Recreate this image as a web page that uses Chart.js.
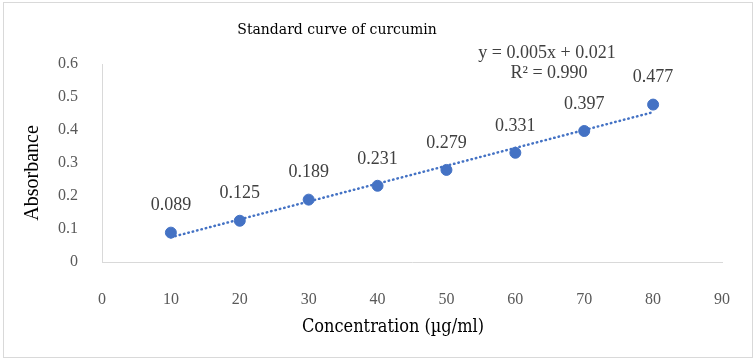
<!DOCTYPE html>
<html>
<head>
<meta charset="utf-8">
<script src="https://cdn.jsdelivr.net/npm/chart.js@4"></script>
<style>
  html, body { margin: 0; padding: 0; background: #fff; }
  #wrap { width: 756px; height: 362px; }
</style>
</head>
<body>
<div id="wrap"><canvas id="curveChart" width="756" height="362"></canvas></div>
<script>
// concentrations (µg/ml) and measured absorbance
const concentrations = [10, 20, 30, 40, 50, 60, 70, 80];
const absorbance = [0.089, 0.125, 0.189, 0.231, 0.279, 0.331, 0.397, 0.477];

// linear trendline ends
const trendX = [10, 80];
const trendY = [0.075, 0.454];

const chartTitle = "Standard curve of curcumin";
const equationLines = ["y = 0.005x + 0.021", "R\u00b2 = 0.990"];
const xTitle = "Concentration (\u00b5g/ml)";
const yTitle = "Absorbance";

const blue = "#4472C4";
const serif = "Liberation Serif, Times New Roman, Times, serif";

// labels, titles and frame drawn on top of the chart
const extrasPlugin = {
    id: "extras",
    afterDraw(chart) {
        const ctx = chart.ctx;
        ctx.save();

        // outer frame
        ctx.strokeStyle = "#d9d9d9";
        ctx.lineWidth = 1;
        ctx.strokeRect(3.5, 2.5, 749, 355);

        // value labels above each point
        const meta = chart.getDatasetMeta(0);
        ctx.font = "18px " + serif;
        ctx.fillStyle = "#404040";
        ctx.textAlign = "center";
        ctx.textBaseline = "middle";
        meta.data.forEach((pt, i) => {
            ctx.fillText(absorbance[i].toFixed(3), pt.x, pt.y - 27);
        });

        // trendline equation
        ctx.fillText(equationLines[0], 547, 53);
        ctx.fillText(equationLines[1], 549, 73);

        // chart title
        ctx.fillStyle = "#000";
        ctx.font = "14px DejaVu Serif";
        ctx.fillText(chartTitle, 337, 30);

        // axis titles
        ctx.font = "18px DejaVu Serif Condensed, DejaVu Serif";
        ctx.fillText(xTitle, 393, 327);

        ctx.translate(33, 173);
        ctx.rotate(-Math.PI / 2);
        ctx.font = "20px " + serif;
        ctx.fillText(yTitle, 0, 0);

        ctx.restore();
    }
};

new Chart(document.getElementById("curveChart"), {
    type: "scatter",
    data: {
        datasets: [{
            label: "Absorbance",
            data: concentrations.map((c, i) => ({x: c, y: absorbance[i]})),
            backgroundColor: blue,
            borderColor: blue,
            pointRadius: 5.5,
            pointHoverRadius: 5.5,
            order: 0
        }, {
            label: "Linear trend",
            type: "line",
            data: trendX.map((c, i) => ({x: c, y: trendY[i]})),
            borderColor: blue,
            borderWidth: 2.5,
            borderDash: [0.5, 4],
            borderCapStyle: "round",
            pointRadius: 0,
            fill: false,
            order: 1
        }]
    },
    options: {
        responsive: false,
        animation: false,
        layout: {
            padding: {top: 64, right: 34, bottom: 0, left: 0}
        },
        plugins: {
            legend: {display: false},
            tooltip: {enabled: false}
        },
        scales: {
            x: {
                type: "linear",
                min: 0,
                max: 90,
                grid: {display: false},
                border: {display: true, color: "#d9d9d9", width: 1},
                ticks: {
                    stepSize: 10,
                    padding: 20,
                    color: "#595959",
                    font: {family: serif, size: 16}
                },
                afterFit(scale) { scale.height = 100; }
            },
            y: {
                min: 0,
                max: 0.6,
                grid: {display: false},
                border: {display: true, color: "#d9d9d9", width: 1},
                ticks: {
                    stepSize: 0.1,
                    padding: 16,
                    color: "#595959",
                    font: {family: serif, size: 16},
                    callback: v => Math.round(v * 10) / 10
                },
                afterFit(scale) { scale.width = 102; }
            }
        }
    },
    plugins: [extrasPlugin]
});
</script>
</body>
</html>
